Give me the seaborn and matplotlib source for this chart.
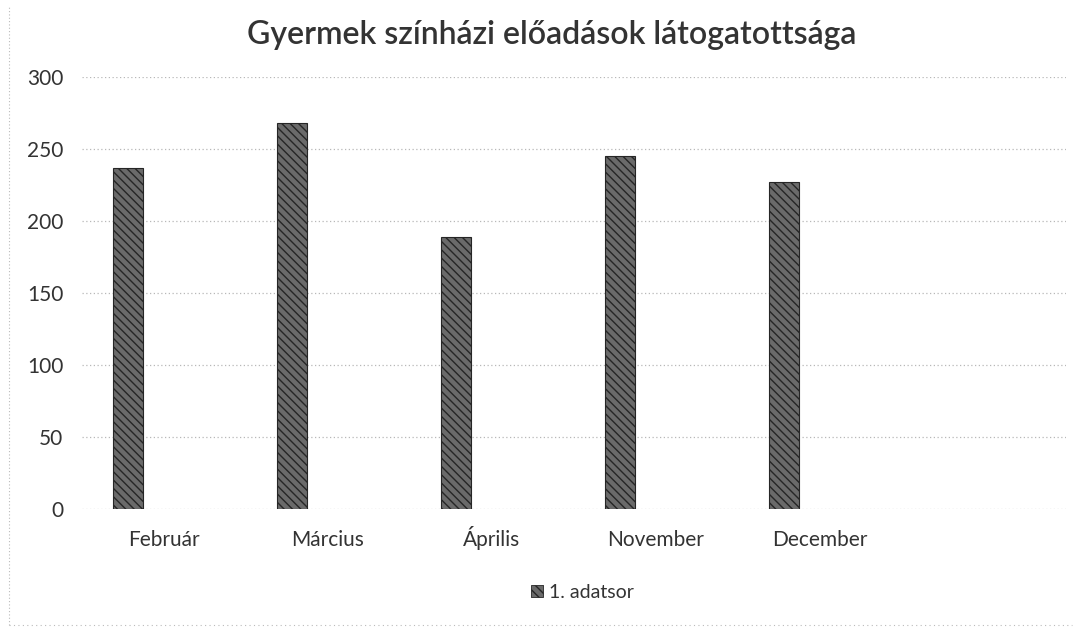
import pandas as pd
import seaborn as sns
import matplotlib.pyplot as plt
from matplotlib.patches import Patch
from matplotlib.lines import Line2D

# chart data
months = ["Február", "Március", "Április", "November", "December"]
visitors = [237, 268, 189, 245, 227]
series_names = ["1. adatsor", "2. adatsor"]   # second series is empty in the source sheet
blank_slot = [" "]                             # trailing empty category
title = "Gyermek színházi előadások látogatottsága"

df = pd.DataFrame({"month": months, "value": visitors, "series": series_names[0]})

bar_fill = "#6a6a6a"
bar_edge = "#262626"
text_col = "#333333"

sns.set_theme(style="white")
plt.rcParams["font.family"] = ["Lato", "DejaVu Sans"]

fig = plt.figure(figsize=(10.83, 6.3), dpi=100)
ax = fig.add_axes([82 / 1083, 1 - 509 / 630, (1066 - 82) / 1083, (509 - 77) / 630])

sns.barplot(data=df, x="month", y="value", hue="series", hue_order=series_names,
            order=months + blank_slot, width=0.88, gap=0.58, dodge=True,
            palette=[bar_fill, bar_fill], saturation=1,
            edgecolor=bar_edge, linewidth=0.8, legend=False, ax=ax)
for bar in ax.patches:
    bar.set_hatch("\\\\\\\\")

ax.set_ylim(0, 300)
ax.set_xlim(-0.5, len(months) + 0.5)
ax.set_yticks(range(0, 301, 50))
ax.grid(axis="y", color="#b8b8b8", linestyle=(0, (1, 2)), linewidth=0.9)
ax.set_axisbelow(True)
sns.despine(ax=ax, left=True, bottom=True)
ax.tick_params(axis="both", length=0, labelsize=15, colors=text_col)
ax.tick_params(axis="y", pad=13.5)
ax.tick_params(axis="x", pad=26.5)
for lbl in ax.get_xticklabels():
    lbl.set_verticalalignment("baseline")
ax.set_xlabel("")
ax.set_ylabel("")

fig.text(0.509, 0.945, title, ha="center", va="center", fontsize=23,
         fontweight="semibold", color=text_col)

handle = Patch(facecolor=bar_fill, edgecolor=bar_edge, hatch="\\\\\\\\", linewidth=0.6)
fig.legend([handle], [series_names[0]], loc="center", bbox_to_anchor=(0.538, 0.06),
           frameon=False, fontsize=14, handlelength=0.6, handleheight=0.6,
           handletextpad=0.35, labelcolor=text_col)

# dotted chart-area border (left and bottom visible in the scan)
fig.add_artist(Line2D([0.008, 0.008], [0.008, 0.99], transform=fig.transFigure,
                      color="#bbbbbb", linestyle=(0, (1, 2)), linewidth=0.8))
fig.add_artist(Line2D([0.008, 0.99], [0.008, 0.008], transform=fig.transFigure,
                      color="#bbbbbb", linestyle=(0, (1, 3)), linewidth=0.8))

fig.savefig("out.png", dpi=100)
